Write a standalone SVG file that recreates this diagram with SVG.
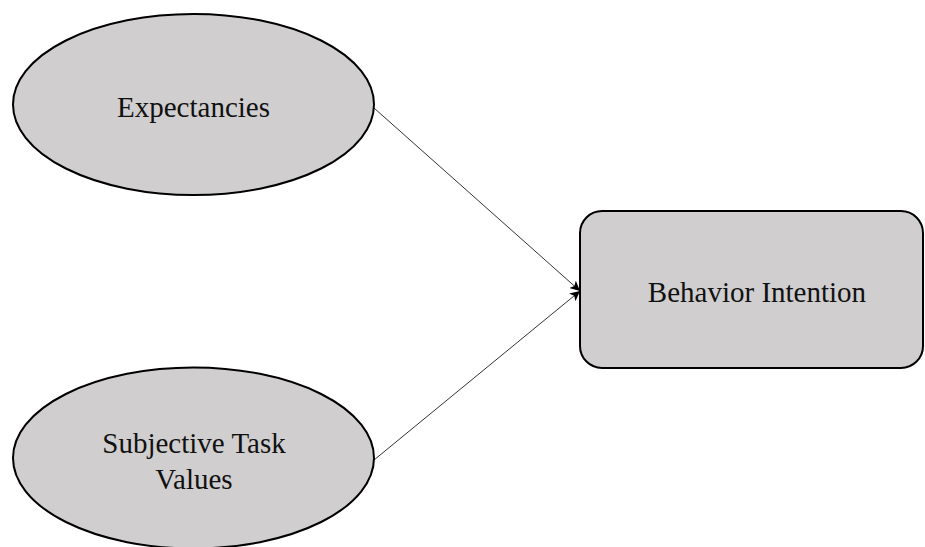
<svg xmlns="http://www.w3.org/2000/svg" width="925" height="547" viewBox="0 0 925 547">
  <style>
    .shape { fill: #d0cecf; stroke: #000; stroke-width: 2; }
    .label { font-family: "Liberation Serif", "Times New Roman", serif; font-size: 29px; fill: #111; text-anchor: middle; }
    .link { stroke: #333; stroke-width: 1; fill: none; marker-end: url(#arrow); }
  </style>
  <defs>
    <marker id="arrow" viewBox="0 0 10 10" refX="10" refY="5" markerWidth="10" markerHeight="10" markerUnits="userSpaceOnUse" orient="auto">
      <path d="M0,0 L10,5 L0,10 L2.5,5 z" fill="#000"/>
    </marker>
  </defs>
  <rect width="925" height="547" fill="#fff"/>
  <g id="connectors">
    <line class="link" x1="374" y1="108" x2="580" y2="291"/>
    <line class="link" x1="374" y1="460" x2="580" y2="291"/>
  </g>
  <g id="expectancies">
    <ellipse class="shape" cx="193.5" cy="104.5" rx="180.5" ry="90.5"/>
    <text class="label" x="193.5" y="117">Expectancies</text>
  </g>
  <g id="subjective-task-values">
    <ellipse class="shape" cx="193.5" cy="458" rx="180.5" ry="90.5"/>
    <text class="label" x="194" y="453">Subjective Task</text>
    <text class="label" x="194" y="489">Values</text>
  </g>
  <g id="behavior-intention">
    <rect class="shape" x="580" y="211" width="343" height="157" rx="22" ry="22"/>
    <text class="label" x="757" y="302">Behavior Intention</text>
  </g>
</svg>
